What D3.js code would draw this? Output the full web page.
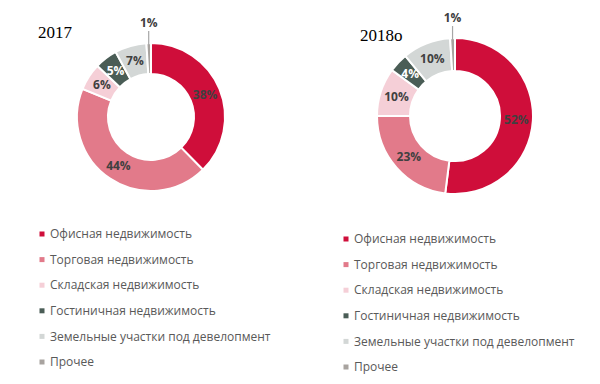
<!DOCTYPE html>
<html>
<head>
<meta charset="utf-8">
<script src="https://cdn.jsdelivr.net/npm/d3@7"></script>
<style>
  html, body { margin: 0; padding: 0; background: #fff; }
  svg { display: block; }
  .title { font-family: "Liberation Serif", "Times New Roman", serif; font-size: 17px; fill: #000; }
  .slice-label { font-family: "Open Sans", sans-serif; font-size: 12px; font-weight: 700; }
  .legend-text { font-family: "Open Sans", sans-serif; font-size: 12px; fill: #595959; }
</style>
</head>
<body>
<div id="chart"></div>
<script>
const categories = [
  'Офисная недвижимость',
  'Торговая недвижимость',
  'Складская недвижимость',
  'Гостиничная недвижимость',
  'Земельные участки под девелопмент',
  'Прочее'
];
const colors = ['#cf0e3a', '#e27a8a', '#f5cfd7', '#4a5d56', '#d3d7d6', '#a8a39f'];
const labelColors = ['#404040', '#404040', '#404040', '#ffffff', '#404040', '#404040'];

const titles = ['2017', '2018о'];
const values2017 = [38, 44, 6, 5, 7, 1];
const values2018 = [52, 23, 10, 4, 10, 1];

const width = 600;
const height = 384;

const panels = [
  { title: titles[0], values: values2017, cx: 151, cy: 117, outer: 74, inner: 43,
    titleX: 38, titleY: 38, legendX: 42, legendY: 234 },
  { title: titles[1], values: values2018, cx: 455, cy: 116, outer: 78, inner: 45,
    titleX: 360, titleY: 41, legendX: 346, legendY: 239 }
];

const svg = d3.select('#chart')
  .append('svg')
  .attr('width', width)
  .attr('height', height);

const pie = d3.pie().sort(null).value(d => d);
const rowStep = 25.6;

panels.forEach(panel => {
  const g = svg.append('g')
    .attr('transform', `translate(${panel.cx}, ${panel.cy})`);

  const arc = d3.arc().innerRadius(panel.inner).outerRadius(panel.outer);
  const arcs = pie(panel.values);

  g.selectAll('.slice')
    .data(arcs)
    .enter()
    .append('path')
    .attr('class', 'slice')
    .attr('d', arc)
    .attr('fill', (d, i) => colors[i])
    .attr('stroke', '#fff')
    .attr('stroke-width', 2);

  // labels inside the ring, the last (1%) one goes on a leader line above
  arcs.forEach((d, i) => {
    if (i === arcs.length - 1) {
      const a = (d.startAngle + d.endAngle) / 2;
      const x = Math.sin(a) * panel.outer;
      const y = -Math.cos(a) * panel.outer;
      g.append('line')
        .attr('x1', x).attr('y1', y + 2)
        .attr('x2', x).attr('y2', y - 12)
        .attr('stroke', '#a6a6a6')
        .attr('stroke-width', 1.2);
      g.append('text')
        .attr('class', 'slice-label')
        .attr('x', x)
        .attr('y', y - 16)
        .attr('text-anchor', 'middle')
        .attr('fill', labelColors[i])
        .text(d.data + '%');
    } else {
      const [x, y] = arc.centroid(d);
      g.append('text')
        .attr('class', 'slice-label')
        .attr('x', x)
        .attr('y', y)
        .attr('dy', '0.35em')
        .attr('text-anchor', 'middle')
        .attr('fill', labelColors[i])
        .text(d.data + '%');
    }
  });

  svg.append('text')
    .attr('class', 'title')
    .attr('x', panel.titleX)
    .attr('y', panel.titleY)
    .text(panel.title);

  const legend = svg.append('g')
    .attr('transform', `translate(${panel.legendX}, ${panel.legendY})`);

  const row = legend.selectAll('.row')
    .data(categories)
    .enter()
    .append('g')
    .attr('class', 'row')
    .attr('transform', (d, i) => `translate(0, ${i * rowStep})`);

  row.append('rect')
    .attr('x', -2.5)
    .attr('y', -2.5)
    .attr('width', 5)
    .attr('height', 5)
    .attr('fill', (d, i) => colors[i]);

  row.append('text')
    .attr('class', 'legend-text')
    .attr('x', 8)
    .attr('dy', '0.35em')
    .text(d => d);
});
</script>
</body>
</html>
